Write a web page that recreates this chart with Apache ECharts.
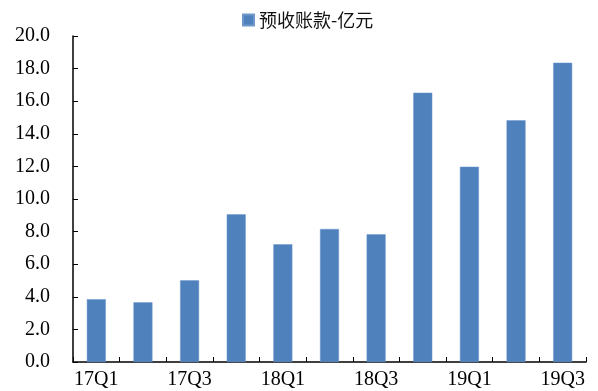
<!DOCTYPE html>
<html>
<head>
<meta charset="utf-8">
<script src="https://cdn.jsdelivr.net/npm/echarts@6/dist/echarts.min.js"></script>
<style>html,body{margin:0;padding:0;background:#fff;}#c{width:598px;height:391px;}</style>
</head>
<body>
<div id="c"></div>
<script>
var categories = ['17Q1','17Q2','17Q3','17Q4','18Q1','18Q2','18Q3','18Q4','19Q1','19Q2','19Q3'];
var seriesName = '预收账款-亿元';
var values = [3.85, 3.66, 5.01, 9.06, 7.22, 8.16, 7.83, 16.52, 11.98, 14.83, 18.36];

var chart = echarts.init(document.getElementById('c'), null, {renderer: 'canvas'});
chart.setOption({
  animation: false,
  backgroundColor: '#ffffff',
  legend: {
    data: [seriesName],
    top: 6,
    left: 237,
    itemWidth: 11,
    itemHeight: 11,
    itemGap: 6,
    icon: 'rect',
    textStyle: {fontFamily: 'Noto Sans CJK SC', fontSize: 18, color: '#111'}
  },
  grid: {left: 73, right: 12, top: 36, bottom: 29, containLabel: false},
  xAxis: {
    type: 'category',
    data: categories,
    boundaryGap: true,
    axisLine: {lineStyle: {color: '#000', width: 1.5}},
    axisTick: {show: true, inside: true, length: 5, interval: 0, lineStyle: {color: '#000'}},
    axisLabel: {interval: 1, margin: 8, fontFamily: 'Liberation Serif', fontSize: 20, color: '#000'},
    splitLine: {show: false}
  },
  yAxis: {
    type: 'value',
    min: 0,
    max: 20,
    interval: 2,
    axisLine: {show: true, lineStyle: {color: '#000', width: 1.5}},
    axisTick: {show: true, inside: true, length: 5, lineStyle: {color: '#000'}},
    axisLabel: {margin: 23, fontFamily: 'Liberation Serif', fontSize: 20, color: '#000',
      formatter: function (v) { return v.toFixed(1); }},
    splitLine: {show: false}
  },
  series: [{
    name: seriesName,
    type: 'bar',
    data: values,
    barWidth: 19,
    itemStyle: {color: '#4F81BD', borderColor: '#6E98CC', borderWidth: 0.5}
  }]
});
</script>
</body>
</html>
